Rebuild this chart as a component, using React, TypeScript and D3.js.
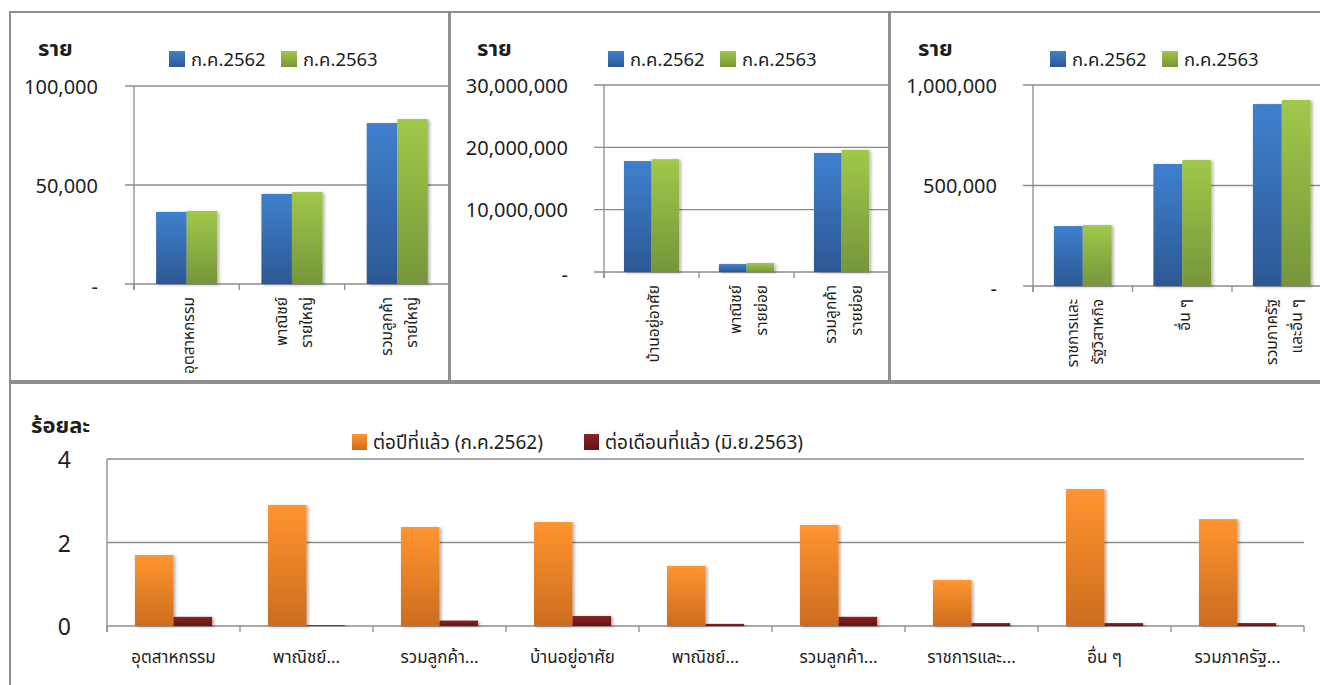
import React from "react";
import * as d3 from "d3";

const seriesTop = ["ก.ค.2562", "ก.ค.2563"];
const seriesBottom = ["ต่อปีที่แล้ว (ก.ค.2562)", "ต่อเดือนที่แล้ว (มิ.ย.2563)"];

const cats1 = [["อุตสาหกรรม"], ["พาณิชย์", "รายใหญ่"], ["รวมลูกค้า", "รายใหญ่"]];
const vals1_2562 = [36400, 45500, 81300];
const vals1_2563 = [36900, 46500, 83300];
const ticks1 = [0, 50000, 100000];

const cats2 = [["บ้านอยู่อาศัย"], ["พาณิชย์", "รายย่อย"], ["รวมลูกค้า", "รายย่อย"]];
const vals2_2562 = [17800000, 1280000, 19100000];
const vals2_2563 = [18100000, 1440000, 19600000];
const ticks2 = [0, 10000000, 20000000, 30000000];

const cats3 = [["ราชการและ", "รัฐวิสาหกิจ"], ["อื่น ๆ"], ["รวมภาครัฐ", "และอื่น ๆ"]];
const vals3_2562 = [298000, 607000, 905000];
const vals3_2563 = [303000, 627000, 925000];
const ticks3 = [0, 500000, 1000000];

const catsBottom = [
  "อุตสาหกรรม",
  "พาณิชย์...",
  "รวมลูกค้า...",
  "บ้านอยู่อาศัย",
  "พาณิชย์...",
  "รวมลูกค้า...",
  "ราชการและ...",
  "อื่น ๆ",
  "รวมภาครัฐ...",
];
const valsYoY = [1.7, 2.9, 2.37, 2.49, 1.44, 2.42, 1.1, 3.28, 2.56];
const valsMoM = [0.22, 0.02, 0.13, 0.24, 0.05, 0.22, 0.07, 0.07, 0.07];
const ticksBottom = [0, 2, 4];

const FONT = "Tahoma, 'Leelawadee UI', 'Noto Sans Thai', 'Noto Sans', sans-serif";
const GRID = "#8c8c8c";
const BORDER = "#8f8f8f";
const TXT = "#1e1e1e";

const fmt = d3.format(",");
const topTickFmt = (v: number) => (v === 0 ? "-" : fmt(v));

type TopCfg = {
  id: string;
  px: number; pw: number;
  cats: string[][];
  a: number[]; b: number[];
  ticks: number[];
  max: number;
  left: number; band: number; y0: number; yTop: number;
  labelRight: number; gridLeft: number;
  unitX: number; legX: number; legX2: number;
  lineGap: number;
};

const topCfgs: TopCfg[] = [
  { id: "p1", px: 10, pw: 439, cats: cats1, a: vals1_2562, b: vals1_2563, ticks: ticks1, max: 100000,
    left: 134, band: 105.3, y0: 284, yTop: 86, labelRight: 98, gridLeft: 125, unitX: 38, legX: 169, legX2: 281, lineGap: 25 },
  { id: "p2", px: 450, pw: 439, cats: cats2, a: vals2_2562, b: vals2_2563, ticks: ticks2, max: 30000000,
    left: 604, band: 95, y0: 272, yTop: 85, labelRight: 568, gridLeft: 594, unitX: 477, legX: 608, legX2: 720, lineGap: 26 },
  { id: "p3", px: 890, pw: 460, cats: cats3, a: vals3_2562, b: vals3_2563, ticks: ticks3, max: 1000000,
    left: 1033, band: 99.5, y0: 286, yTop: 85, labelRight: 997, gridLeft: 1023, unitX: 918, legX: 1050, legX2: 1162, lineGap: 25 },
];

const colorsTop = [
  { id: "gBlue", top: "#3f80cf", bot: "#2c5893" },
  { id: "gGreen", top: "#a0c84a", bot: "#76953a" },
];
const colorsBottom = [
  { id: "gOrange", top: "#ff9530", bot: "#cc6c1e" },
  { id: "gRed", top: "#8c2222", bot: "#661414" },
];

function TopPanel({ c }: { c: TopCfg }) {
  const n = c.cats.length;
  const x = d3.scaleBand<number>().domain(d3.range(n)).range([c.left, c.left + c.band * n]).padding(0);
  const bw = x.bandwidth();
  const inner = d3.scaleBand<string>().domain(seriesTop).range([0.21 * bw, 0.79 * bw]).padding(0);
  const y = d3.scaleLinear().domain([0, c.max]).range([c.y0, c.yTop]);
  const vals = [c.a, c.b];
  return (
    <g>
      <clipPath id={"clip" + c.id}>
        <rect x={c.px} y={12} width={c.pw} height={369} />
      </clipPath>
      <g clipPath={`url(#clip${c.id})`}>
        <text x={c.unitX} y={56} fontSize={22} fontWeight="bold" fill={TXT}>ราย</text>
        {seriesTop.map((s, i) => (
          <g key={s}>
            <rect x={i === 0 ? c.legX : c.legX2} y={51} width={16} height={16} fill={`url(#${colorsTop[i].id})`} />
            <text x={(i === 0 ? c.legX : c.legX2) + 22} y={66} fontSize={18.5} fill={TXT}>{s}</text>
          </g>
        ))}
        {c.ticks.map((t) => (
          <g key={t}>
            <line x1={c.gridLeft} x2={c.px + c.pw + 20} y1={y(t)} y2={y(t)} stroke={GRID} strokeWidth={1.3} />
            <text x={c.labelRight} y={y(t) + (t === 0 ? 4 : 2)} fontSize={20} textAnchor="end" dominantBaseline="middle" fill={TXT}>
              {topTickFmt(t)}
            </text>
          </g>
        ))}
        <line x1={c.left} x2={c.left} y1={c.yTop} y2={c.y0 + 6} stroke={GRID} strokeWidth={1.3} />
        {d3.range(n + 1).map((i) => (
          <line key={i} x1={c.left + i * bw} x2={c.left + i * bw} y1={c.y0} y2={c.y0 + 6} stroke={GRID} strokeWidth={1.3} />
        ))}
        {c.cats.map((_, ci) =>
          seriesTop.map((s, si) => {
            const v = vals[si][ci];
            return (
              <rect key={ci + s} x={(x(ci) as number) + (inner(s) as number)} y={y(v)} width={inner.bandwidth()}
                height={c.y0 - y(v)} fill={`url(#${colorsTop[si].id})`} filter="url(#shadow)" />
            );
          })
        )}
        {c.cats.map((lines, ci) => {
          const cx = (x(ci) as number) + bw / 2;
          return lines.map((ln, li) => {
            const lx = cx + (li - (lines.length - 1) / 2) * c.lineGap + 2;
            const ly = c.y0 + 13;
            return (
              <text key={ci + "-" + li} transform={`translate(${lx},${ly}) rotate(-90)`} textAnchor="end" dy="0.35em"
                fontSize={15.5} fill={TXT}>
                {ln}
              </text>
            );
          });
        })}
      </g>
      <rect x={c.px} y={12} width={c.pw} height={369} fill="none" stroke={BORDER} strokeWidth={2} />
    </g>
  );
}

function BottomPanel() {
  const left = 107;
  const right = 1304;
  const y0 = 626;
  const yTop = 459;
  const n = catsBottom.length;
  const x = d3.scaleBand<number>().domain(d3.range(n)).range([left, right]).padding(0);
  const bw = x.bandwidth();
  const inner = d3.scaleBand<string>().domain(seriesBottom).range([0.21 * bw, 0.79 * bw]).padding(0);
  const y = d3.scaleLinear().domain([0, 4]).range([y0, yTop]);
  const vals = [valsYoY, valsMoM];
  const legXs = [352, 584];
  return (
    <g>
      <rect x={10} y={383} width={1340} height={330} fill="none" stroke={BORDER} strokeWidth={2} />
      <text x={31} y={433} fontSize={22} fontWeight="bold" fill={TXT}>ร้อยละ</text>
      {seriesBottom.map((s, i) => (
        <g key={s}>
          <rect x={legXs[i]} y={434} width={15} height={16} fill={`url(#${colorsBottom[i].id})`} />
          <text x={legXs[i] + 21} y={449} fontSize={19} fill={TXT}>{s}</text>
        </g>
      ))}
      {ticksBottom.map((t) => (
        <g key={t}>
          <line x1={left} x2={right} y1={y(t)} y2={y(t)} stroke={GRID} strokeWidth={1.3} />
          <text x={71} y={y(t) + 3} fontSize={23} textAnchor="end" dominantBaseline="middle" fill={TXT}>{t}</text>
        </g>
      ))}
      <line x1={left} x2={left} y1={yTop} y2={y0 + 6} stroke={GRID} strokeWidth={1.3} />
      {d3.range(n + 1).map((i) => (
        <line key={i} x1={left + i * bw} x2={left + i * bw} y1={y0} y2={y0 + 6} stroke={GRID} strokeWidth={1.3} />
      ))}
      {catsBottom.map((_, ci) =>
        seriesBottom.map((s, si) => {
          const v = vals[si][ci];
          return (
            <rect key={ci + s} x={(x(ci) as number) + (inner(s) as number)} y={y(v)} width={inner.bandwidth()}
              height={y0 - y(v)} fill={`url(#${colorsBottom[si].id})`} filter="url(#shadow)" />
          );
        })
      )}
      {catsBottom.map((c, ci) => (
        <text key={ci} x={(x(ci) as number) + bw / 2} y={663} fontSize={17} textAnchor="middle" fill={TXT}>{c}</text>
      ))}
    </g>
  );
}

export default function App() {
  return (
    <svg width={1320} height={685} style={{ position: "absolute", left: 0, top: 0, background: "#fff" }}
      fontFamily={FONT}>
      <defs>
        {[...colorsTop, ...colorsBottom].map((g) => (
          <linearGradient key={g.id} id={g.id} x1="0" y1="0" x2="0" y2="1">
            <stop offset="0" stopColor={g.top} />
            <stop offset="1" stopColor={g.bot} />
          </linearGradient>
        ))}
        <filter id="shadow" x="-20%" y="-10%" width="150%" height="130%">
          <feDropShadow dx="2" dy="1" stdDeviation="1.5" floodColor="#000" floodOpacity="0.3" />
        </filter>
      </defs>
      <rect x={0} y={0} width={1320} height={685} fill="#fff" />
      {topCfgs.map((c) => (
        <TopPanel key={c.id} c={c} />
      ))}
      <BottomPanel />
    </svg>
  );
}
